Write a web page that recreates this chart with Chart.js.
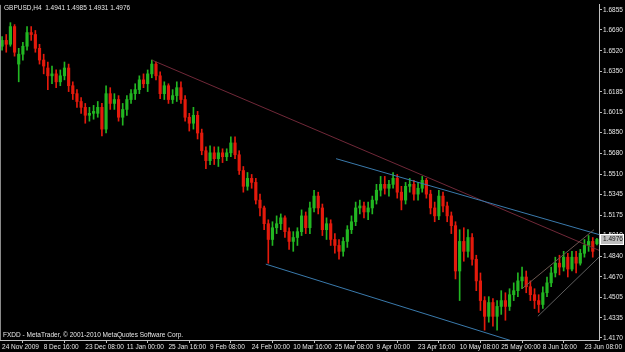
<!DOCTYPE html>
<html>
<head>
<meta charset="utf-8">
<script src="https://cdn.jsdelivr.net/npm/chart.js@4.4.0/dist/chart.umd.min.js"></script>
<style>
html, body { margin: 0; padding: 0; background: #000; }
canvas { display: block; background: #000; }
</style>
</head>
<body>
<canvas id="fxChart" width="625" height="352"></canvas>
<script>
// GBPUSD H4 candles, 24 Nov 2009 - 23 Jun 2010 (each candle here groups several H4 bars)
var openP = [1.6557,1.6605,1.6573,1.6718,1.6411,1.6492,1.6557,1.6669,1.6653,1.6540,
  1.6444,1.6379,1.6315,1.6331,1.6266,1.6315,1.6379,1.6234,1.6169,1.6105,
  1.6057,1.5992,1.6008,1.6008,1.6057,1.5879,1.6169,1.6089,1.6121,1.5976,
  1.6040,1.6121,1.6169,1.6202,1.6282,1.6250,1.6331,1.6411,1.6315,1.6169,
  1.6234,1.6121,1.6153,1.6218,1.6121,1.5976,1.5927,1.5992,1.5847,1.5702,
  1.5621,1.5685,1.5637,1.5685,1.5653,1.5685,1.5766,1.5669,1.5540,1.5411,
  1.5476,1.5443,1.5298,1.5234,1.5105,1.4976,1.5072,1.5105,1.5153,1.5040,
  1.4960,1.4992,1.5040,1.5169,1.5072,1.5234,1.5331,1.5234,1.5056,1.5105,
  1.4976,1.4927,1.4879,1.4960,1.5056,1.5121,1.5234,1.5250,1.5201,1.5234,
  1.5298,1.5379,1.5427,1.5395,1.5427,1.5476,1.5363,1.5298,1.5411,1.5427,
  1.5347,1.5395,1.5460,1.5347,1.5234,1.5169,1.5331,1.5250,1.5169,1.5089,
  1.4718,1.4960,1.4879,1.4992,1.4814,1.4637,1.4476,1.4347,1.4460,1.4347,
  1.4428,1.4476,1.4428,1.4524,1.4557,1.4637,1.4669,1.4589,1.4524,1.4476,
  1.4444,1.4540,1.4621,1.4702,1.4782,1.4750,1.4831,1.4734,1.4831,1.4782,
  1.4863,1.4927,1.4960,1.4941];
var highP = [1.6637,1.6653,1.6750,1.6734,1.6540,1.6589,1.6718,1.6718,1.6686,1.6573,
  1.6492,1.6428,1.6395,1.6363,1.6363,1.6428,1.6411,1.6266,1.6202,1.6137,
  1.6089,1.6057,1.6073,1.6105,1.6089,1.6234,1.6218,1.6169,1.6153,1.6089,
  1.6153,1.6202,1.6250,1.6315,1.6331,1.6363,1.6444,1.6428,1.6347,1.6266,
  1.6250,1.6202,1.6266,1.6266,1.6153,1.6008,1.6057,1.6024,1.5879,1.5734,
  1.5742,1.5734,1.5734,1.5718,1.5718,1.5815,1.5815,1.5702,1.5573,1.5524,
  1.5508,1.5476,1.5347,1.5250,1.5137,1.5121,1.5169,1.5185,1.5169,1.5072,
  1.5040,1.5072,1.5218,1.5201,1.5282,1.5379,1.5363,1.5266,1.5153,1.5137,
  1.5024,1.4976,1.4992,1.5089,1.5169,1.5282,1.5298,1.5282,1.5282,1.5331,
  1.5427,1.5492,1.5492,1.5460,1.5524,1.5508,1.5411,1.5443,1.5476,1.5460,
  1.5443,1.5492,1.5476,1.5379,1.5282,1.5379,1.5363,1.5282,1.5201,1.5121,
  1.5056,1.5072,1.5056,1.5024,1.4847,1.4702,1.4508,1.4508,1.4492,1.4476,
  1.4557,1.4540,1.4573,1.4621,1.4702,1.4750,1.4718,1.4637,1.4573,1.4524,
  1.4589,1.4669,1.4750,1.4831,1.4847,1.4879,1.4863,1.4879,1.4879,1.4895,
  1.4976,1.5008,1.4992,1.4985];
var lowP = [1.6524,1.6508,1.6557,1.6476,1.6266,1.6444,1.6524,1.6605,1.6508,1.6411,
  1.6331,1.6202,1.6250,1.6218,1.6234,1.6282,1.6186,1.6121,1.6057,1.6008,
  1.5927,1.5944,1.5960,1.5976,1.5823,1.5847,1.6040,1.6040,1.5944,1.5911,
  1.5992,1.6089,1.6121,1.6169,1.6218,1.6186,1.6299,1.6282,1.6129,1.6121,
  1.6089,1.6089,1.6105,1.6089,1.5944,1.5863,1.5879,1.5798,1.5669,1.5556,
  1.5589,1.5589,1.5573,1.5605,1.5621,1.5653,1.5637,1.5508,1.5363,1.5379,
  1.5395,1.5266,1.5169,1.5056,1.4782,1.4927,1.5024,1.5056,1.4992,1.4895,
  1.4879,1.4927,1.5008,1.5024,1.5024,1.5201,1.5185,1.5008,1.4976,1.4927,
  1.4863,1.4814,1.4839,1.4911,1.5024,1.5089,1.5185,1.5153,1.5137,1.5185,
  1.5266,1.5331,1.5347,1.5331,1.5395,1.5314,1.5218,1.5266,1.5363,1.5298,
  1.5298,1.5363,1.5314,1.5185,1.5121,1.5137,1.5201,1.5121,1.5024,1.4653,
  1.4476,1.4798,1.4831,1.4766,1.4557,1.4395,1.4234,1.4299,1.4266,1.4234,
  1.4363,1.4315,1.4395,1.4476,1.4508,1.4573,1.4540,1.4476,1.4411,1.4379,
  1.4411,1.4508,1.4589,1.4669,1.4686,1.4718,1.4669,1.4718,1.4702,1.4766,
  1.4831,1.4879,1.4831,1.4931];
var closeP = [1.6605,1.6573,1.6718,1.6508,1.6492,1.6557,1.6669,1.6653,1.6540,1.6444,
  1.6395,1.6315,1.6331,1.6266,1.6315,1.6379,1.6234,1.6169,1.6105,1.6057,
  1.5992,1.6008,1.6024,1.6057,1.5879,1.6169,1.6089,1.6121,1.5976,1.6040,
  1.6121,1.6169,1.6202,1.6282,1.6250,1.6331,1.6411,1.6315,1.6169,1.6234,
  1.6121,1.6153,1.6218,1.6121,1.5976,1.5927,1.5992,1.5847,1.5702,1.5621,
  1.5685,1.5637,1.5685,1.5653,1.5685,1.5766,1.5669,1.5540,1.5411,1.5476,
  1.5443,1.5298,1.5234,1.5105,1.4976,1.5072,1.5105,1.5153,1.5040,1.4960,
  1.4992,1.5040,1.5169,1.5072,1.5234,1.5331,1.5234,1.5056,1.5105,1.4976,
  1.4927,1.4879,1.4960,1.5056,1.5121,1.5234,1.5250,1.5201,1.5234,1.5298,
  1.5379,1.5427,1.5395,1.5427,1.5476,1.5363,1.5298,1.5411,1.5427,1.5347,
  1.5395,1.5460,1.5347,1.5234,1.5169,1.5331,1.5250,1.5169,1.5089,1.4718,
  1.4960,1.4879,1.4992,1.4814,1.4637,1.4476,1.4347,1.4460,1.4347,1.4428,
  1.4476,1.4428,1.4524,1.4557,1.4637,1.4669,1.4589,1.4524,1.4476,1.4444,
  1.4540,1.4621,1.4702,1.4782,1.4750,1.4831,1.4734,1.4831,1.4782,1.4863,
  1.4927,1.4960,1.4879,1.4976];

var timeLabels = ['24 Nov 2009', '8 Dec 16:00', '23 Dec 08:00', '11 Jan 00:00', '25 Jan 16:00',
  '9 Feb 08:00', '24 Feb 00:00', '10 Mar 16:00', '25 Mar 08:00', '9 Apr 00:00',
  '23 Apr 16:00', '10 May 08:00', '25 May 00:00', '8 Jun 16:00', '23 Jun 08:00'];
var timeTickBars = [0, 10, 20, 30, 40, 50, 60, 70, 80, 90, 100, 110, 120, 130, 140];
var priceTicks = [1.6855, 1.6690, 1.6520, 1.6350, 1.6185, 1.6015, 1.5850, 1.5680, 1.5510,
  1.5345, 1.5175, 1.5010, 1.4840, 1.4670, 1.4505, 1.4335, 1.4170];

// drawn objects: [bar, price] -> [bar, price]
var trendLines = [
  { from: [36, 1.6444], to: [143.5, 1.4887], color: '#702838' },
  { from: [80.3, 1.5637], to: [143.5, 1.5016], color: '#3a7aac' },
  { from: [63.4, 1.4774], to: [125, 1.4120], color: '#3a7aac' },
  { from: [125, 1.4573], to: [142.3, 1.5056], color: '#6b5750' },
  { from: [128.8, 1.4347], to: [143.5, 1.4831], color: '#5e5e5e' }
];

var bull = '#22b622';
var bear = '#e41a0c';
var lastBar = closeP.length - 1;

var wickData = closeP.map(function (c, i) { return { x: i, y: [lowP[i], highP[i]] }; });
var bodyData = closeP.map(function (c, i) { return { x: i, y: [openP[i], closeP[i]] }; });

function candleColor(ctx) {
  var i = ctx.dataIndex;
  return closeP[i] >= openP[i] ? bull : bear;
}

var font = { family: 'Liberation Sans', size: 6.5 };

var overlay = {
  id: 'overlay',
  afterDatasetsDraw: function (chart) {
    var c = chart.ctx, a = chart.chartArea;
    var xs = chart.scales.x, ys = chart.scales.y;
    c.save();
    c.beginPath();
    c.rect(a.left, a.top, a.right - a.left, a.bottom - a.top);
    c.clip();
    trendLines.forEach(function (t) {
      c.strokeStyle = t.color;
      c.lineWidth = 1;
      c.beginPath();
      c.moveTo(xs.getPixelForValue(t.from[0]), ys.getPixelForValue(t.from[1]));
      c.lineTo(xs.getPixelForValue(t.to[0]), ys.getPixelForValue(t.to[1]));
      c.stroke();
    });
    c.restore();
  },
  afterDraw: function (chart) {
    var c = chart.ctx, a = chart.chartArea;
    var ys = chart.scales.y;
    c.save();
    // left frame line
    c.strokeStyle = '#8a8a8a';
    c.lineWidth = 1;
    c.beginPath();
    c.moveTo(0.5, a.top);
    c.lineTo(0.5, a.bottom);
    c.stroke();

    c.font = font.size + 'px "' + font.family + '"';
    c.fillStyle = '#e6e6e6';
    c.textAlign = 'left';
    c.textBaseline = 'alphabetic';
    c.fillText('GBPUSD,H4  ' + openP[lastBar].toFixed(4) + ' ' + highP[lastBar].toFixed(4) + ' ' +
      lowP[lastBar].toFixed(4) + ' ' + closeP[lastBar].toFixed(4), 4, 9.5);
    c.fillText('FXDD - MetaTrader, \u00a9 2001-2010 MetaQuotes Software Corp.', 3, 337);

    // current price box
    var py = Math.round(ys.getPixelForValue(closeP[lastBar]));
    c.fillStyle = '#bdbdbd';
    c.fillRect(a.right + 1, py - 5, 24, 11);
    c.strokeStyle = '#ffffff';
    c.strokeRect(a.right + 1.5, py - 4.5, 23, 10);
    c.fillStyle = '#111111';
    c.textBaseline = 'middle';
    c.fillText(closeP[lastBar].toFixed(4), a.right + 4, py + 0.5);
    c.restore();
  }
};

new Chart(document.getElementById('fxChart').getContext('2d'), {
  type: 'bar',
  data: {
    datasets: [
      { data: bodyData, backgroundColor: candleColor, barThickness: 2.5, grouped: false, order: 1 },
      { data: wickData, backgroundColor: candleColor, barThickness: 1, grouped: false, order: 2 }
    ]
  },
  options: {
    responsive: false,
    animation: false,
    layout: { padding: 0 },
    plugins: { legend: { display: false }, tooltip: { enabled: false } },
    scales: {
      x: {
        type: 'linear',
        min: -0.5,
        max: lastBar + 0.5,
        offset: false,
        grid: { drawOnChartArea: false, drawTicks: true, tickLength: 3, color: '#c0c0c0' },
        border: { color: '#c0c0c0' },
        ticks: {
          autoSkip: false, maxRotation: 0, align: 'start', padding: 0,
          color: '#e6e6e6', font: font,
          callback: function (v, i) { return timeLabels[i]; }
        },
        afterBuildTicks: function (s) { s.ticks = timeTickBars.map(function (v) { return { value: v }; }); },
        afterFit: function (s) { s.height = 12; }
      },
      y: {
        position: 'right',
        min: 1.41534,
        max: 1.68953,
        grid: { drawOnChartArea: false, drawTicks: true, tickLength: 3, color: '#c0c0c0' },
        border: { color: '#c0c0c0' },
        ticks: {
          padding: 1, color: '#e6e6e6', font: font,
          callback: function (v) { return v.toFixed(4); }
        },
        afterBuildTicks: function (s) { s.ticks = priceTicks.map(function (v) { return { value: v }; }); },
        afterFit: function (s) { s.width = 26; }
      }
    }
  },
  plugins: [overlay]
});
</script>
</body>
</html>
